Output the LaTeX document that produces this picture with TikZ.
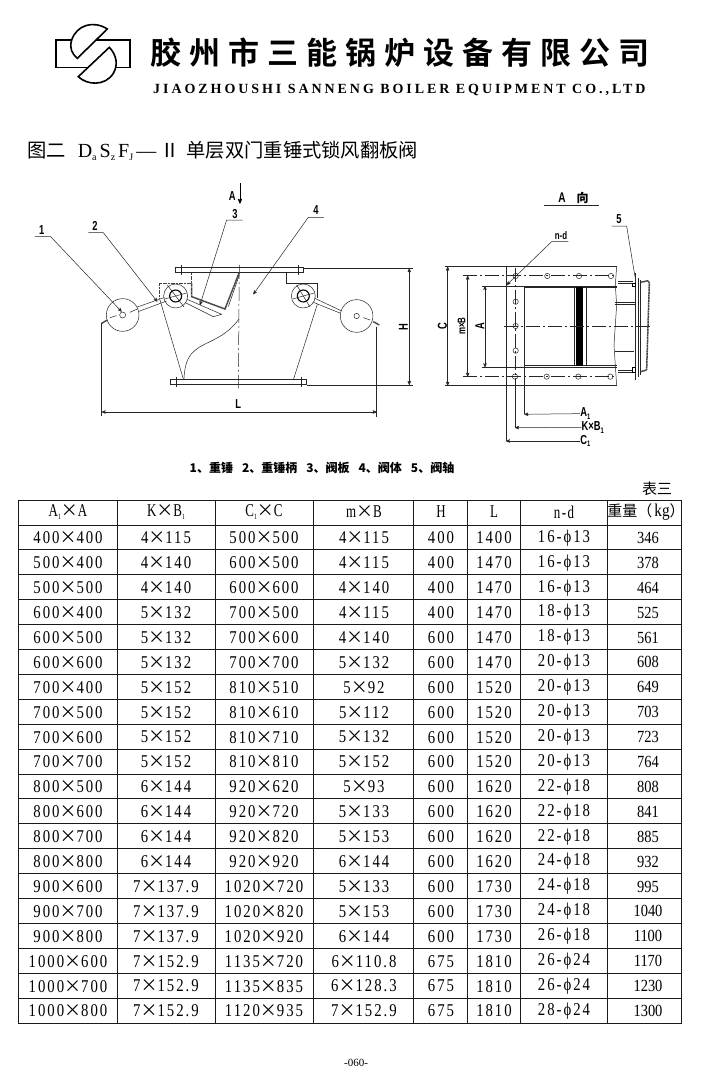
\documentclass[tikz,border=0pt]{standalone}
\usepackage{fontspec}
\usepackage{amsmath}
\usetikzlibrary{calc}
\usetikzlibrary{arrows,shapes}
\setmainfont{Liberation Serif}
\newfontfamily\cjkfont{Noto Sans CJK SC}
\newfontfamily\cjkbold[LetterSpace=26]{Noto Sans CJK SC Bold}
\newfontfamily\engfont[LetterSpace=21]{Liberation Serif Bold}
\newfontfamily\tabfont[FakeStretch=0.82,LetterSpace=11]{Liberation Serif}
\newfontfamily\weightfont[FakeStretch=0.85]{Liberation Serif}
\newfontfamily\headfont[FakeStretch=0.72,LetterSpace=8]{Liberation Serif}
\newfontfamily\dimfont[FakeStretch=0.72]{Liberation Sans Bold}
\newcommand{\tm}{{\fontsize{17}{17}\cjkfont ×}}
\newcommand{\sub}[1]{\raisebox{-2.5pt}{\fontsize{8}{8}\selectfont #1}}
\newcommand{\titlesub}[1]{\raisebox{-2.5pt}{\fontsize{10}{10}\selectfont #1}}
\tikzstyle{thinline} = [solid,black!85,line width=0.5pt,-]
\tikzstyle{heavyline} = [solid,black,line width=1.1pt,-]
\tikzstyle{dotline} = [black!75,line width=1.5pt,dash pattern=on 1.2pt off 0.4pt,-]
\tikzstyle{centerline} = [black!85,line width=0.5pt,dash pattern=on 14pt off 3pt on 2pt off 3pt,-]
\tikzstyle{leader} = [solid,black!85,line width=0.5pt,-stealth']
\tikzstyle{dimline} = [solid,black!85,line width=0.5pt,stealth'-stealth']
\tikzstyle{dimtext} = [inner sep=0pt,font=\dimfont\fontsize{13}{13}\selectfont]
\tikzstyle{tabline} = [solid,black!90,line width=1pt,-]
\tikzstyle{cell} = [inner sep=0pt,font=\tabfont\fontsize{18}{18}\selectfont]
\tikzstyle{weightcell} = [inner sep=0pt,font=\weightfont\fontsize{17}{17}\selectfont]
\tikzstyle{headcell} = [inner sep=0pt,font=\headfont\fontsize{18}{18}\selectfont]
\begin{document}
\begin{tikzpicture}[x=1pt,y=-1pt]
	\useasboundingbox (0,0) rectangle (701,1069);
	\fill[white] (0,0) rectangle (701,1069);

	% logo
	\begin{scope}[shift={(50,15)},scale=0.3333]
		\draw[black,line width=1.3pt] (18,75) rectangle (240,158);
		\draw[black,fill=white,line width=1.6pt] (172,42) .. controls (130,15) and (80,30) .. (65,75) .. controls (58,100) and (65,115) .. (82,130) -- cycle;
		\draw[black,fill=white,line width=1.6pt] (178,97) .. controls (200,120) and (205,150) .. (190,175) .. controls (165,215) and (110,210) .. (85,185) -- cycle;
	\end{scope}
	\node[inner sep=0pt,anchor=west,font=\cjkbold\fontsize{31}{31}\selectfont] (company) at (150,53) {胶州市三能锅炉设备有限公司};
	\node[inner sep=0pt,anchor=west,font=\engfont\fontsize{14}{14}\selectfont] (english) at (153,90) {JIAOZHOUSHI SANNENG BOILER EQUIPMENT CO.,LTD};
	\node[inner sep=0pt,anchor=west,font=\cjkfont\fontsize{19.3}{19.3}\selectfont] (title) at (27,151) {图二\hspace{12pt}{\rmfamily\fontsize{20}{20}\selectfont D\titlesub{a}\hspace{3pt}S\titlesub{z}\hspace{3pt}F\titlesub{J}\hspace{3pt}—}\hspace{4pt}Ⅱ\hspace{7pt}单层双门重锤式锁风翻板阀};

	% side view
	\begin{scope}[shift={(20,185)},scale=0.3333]
		\draw[thinline] (851,250) -- (1180,250);
		\draw[thinline] (860,600) -- (1180,600);
		\draw[thinline] (466,247) -- (851,247) -- (851,263) -- (466,263) -- cycle;
		\draw[thinline] (452,582) -- (860,582) -- (860,598) -- (452,598) -- cycle;
		\draw[thinline] (483,240) -- (483,270);
		\draw[thinline] (835,240) -- (835,270);
		\draw[thinline] (468,575) -- (468,605);
		\draw[thinline] (845,575) -- (845,605);
		\draw[centerline] (658,240) -- (655,610);

		% left hand door
		\draw[dotline] (418,342) -- (418,295) -- (515,295) -- (515,263);
		\draw[dotline] (515,295) -- (515,335) -- (615,372) -- (658,262);
		\draw[thinline] (625,365) -- (658,270);
		\draw[thinline] (490,338) -- (605,388) -- (580,395) -- (490,350);
		\draw[thinline,fill=white] (467,333) circle (36);
		\draw[heavyline] (467,333) circle (18);
		\draw[thinline] (442,300) -- (492,366);
		\draw[thinline] (434,342) -- (500,324);
		\draw[thinline] (308,390) circle (49);
		\draw[thinline] (308,390) circle (9);
		\draw[thinline] (270,398) -- (290,392);
		\draw[thinline] (330,382) -- (352,372);
		\draw[thinline] (352,366) -- (432,338);
		\draw[thinline] (357,379) -- (440,348);
		\draw[dotline] (245,415) -- (262,405);
		\draw[thinline] (420,345) -- (490,582);
		\draw[thinline] (492,582) .. controls (495,500) and (530,490) .. (580,465) .. controls (620,445) and (640,425) .. (657,402);

		% right hand door
		\draw[thinline] (798,263) -- (798,295) -- (892,295) -- (892,340);
		\draw[thinline] (885,340) -- (965,378);
		\draw[thinline] (880,352) -- (962,385);
		\draw[thinline,fill=white] (850,333) circle (36);
		\draw[heavyline] (850,333) circle (18);
		\draw[thinline] (830,300) -- (870,366);
		\draw[thinline] (818,342) -- (882,324);
		\draw[thinline] (1010,393) circle (49);
		\draw[thinline] (1010,393) circle (8);
		\draw[thinline] (1030,398) -- (1050,405);
		\draw[dotline] (1060,410) -- (1078,420);
		\draw[thinline] (892,358) -- (820,585);

		% dimensions
		\draw[thinline] (245,415) -- (245,692);
		\draw[thinline] (1070,425) -- (1070,695);
		\coordinate (lleft) at (245,681);
		\coordinate (lright) at (1070,681);
		\draw[dimline] (lleft) -- (lright);
		\node[dimtext] (lL) at (655,658) {L};
		\coordinate (htop) at (1168,250);
		\coordinate (hbot) at (1168,600);
		\draw[dimline] (htop) -- (hbot);
		\node[dimtext,rotate=90] (lH) at (1150,425) {H};

		% view arrow and leaders
		\node[dimtext] (lA) at (637,33) {A};
		\coordinate (aroot) at (660,-6);
		\coordinate (atip) at (660,56);
		\draw[solid,black,line width=0.8pt,-stealth'] (aroot) -- (atip);
		\node[dimtext] (one) at (65,135) {1};
		\node[dimtext] (two) at (225,122) {2};
		\node[dimtext] (three) at (645,86) {3};
		\node[dimtext] (four) at (888,75) {4};
		\coordinate (onea) at (45,155);
		\coordinate (oneb) at (92,155);
		\coordinate (onec) at (305,380);
		\coordinate (twoa) at (205,143);
		\coordinate (twob) at (250,143);
		\coordinate (twoc) at (412,350);
		\coordinate (threea) at (668,105);
		\coordinate (threeb) at (620,105);
		\coordinate (threec) at (540,360);
		\coordinate (foura) at (912,97);
		\coordinate (fourb) at (865,97);
		\coordinate (fourc) at (700,328);
		\draw[leader] (onea) -- (oneb) -- (onec);
		\draw[leader] (twoa) -- (twob) -- (twoc);
		\draw[leader] (threea) -- (threeb) -- (threec);
		\draw[leader] (foura) -- (fourb) -- (fourc);
	\end{scope}

	% view from A
	\begin{scope}[shift={(430,185)},scale=0.3333]
		\node[inner sep=0pt,font=\dimfont\fontsize{14}{14}\selectfont] (viewA) at (396,38) {A};
		\node[inner sep=0pt,font=\cjkfont\bfseries\fontsize{12}{12}\selectfont] (viewdir) at (458,38) {向};
		\draw[thinline] (343,61) -- (506,61);
		\draw[thinline] (45,245) -- (560,245);
		\draw[thinline] (45,602) -- (560,602);
		\draw[thinline] (228,245) -- (228,602);
		\draw[thinline] (560,245) -- (556,300) -- (560,360) -- (552,480) -- (560,602);
		\draw[thinline] (155,303) -- (560,303);
		\draw[thinline] (283,308) -- (560,308);
		\draw[thinline] (155,547) -- (560,547);
		\draw[thinline] (283,542) -- (560,542);
		\draw[thinline] (283,303) -- (283,547);
		\draw[fill=black] (438,308) rectangle (456,541);
		\draw[thinline] (433,308) -- (433,541);
		\draw[thinline] (468,308) -- (468,541);
		\draw[centerline] (100,272) -- (560,272);
		\draw[centerline] (100,575) -- (560,575);
		\draw[centerline] (222,423) -- (660,423);
		\draw[centerline] (257,250) -- (257,590);
		\foreach \hx/\hy in {257/273,352/273,447/273,543/273,257/350,257/423,257/497,255/575,350/575,445/575,541/575}{
			\draw[thinline] (\hx,\hy) circle (8);
		}

		% shaft end
		\draw[thinline] (565,288) -- (610,288);
		\draw[thinline] (565,295) -- (610,295);
		\draw[thinline] (565,555) -- (610,555);
		\draw[thinline] (565,562) -- (610,562);
		\draw[thinline] (555,352) -- (615,352);
		\draw[thinline] (555,358) -- (615,358);
		\draw[thinline] (555,498) -- (612,498);
		\draw[thinline] (617,265) -- (617,585);
		\draw[thinline] (625,280) -- (625,575);
		\draw[thinline] (632,285) -- (632,570);
		\draw[heavyline] (607,295) rectangle (617,305);
		\draw[heavyline] (607,548) rectangle (617,562);
		\draw[dotline] (632,292) -- (655,287) -- (658,295) -- (650,555) -- (632,560);

		% dimensions
		\coordinate (ctop) at (53,245);
		\coordinate (cbot) at (53,602);
		\draw[dimline] (ctop) -- (cbot);
		\node[dimtext,rotate=90] (lC) at (37,423) {C};
		\coordinate (mtop) at (113,272);
		\coordinate (mbot) at (113,575);
		\draw[dimline] (mtop) -- (mbot);
		\node[inner sep=0pt,rotate=90,font=\dimfont\fontsize{11}{11}\selectfont] (lmB) at (95,423) {m×B};
		\coordinate (atop) at (165,303);
		\coordinate (abot) at (165,547);
		\draw[dimline] (atop) -- (abot);
		\node[dimtext,rotate=90] (lAA) at (150,423) {A};

		\node[dimtext] (lA1) at (466,686) {A\sub{1}};
		\node[dimtext] (lKB) at (488,727) {K×B\sub{1}};
		\node[dimtext] (lC1) at (466,768) {C\sub{1}};
		\coordinate (aone) at (283,547);
		\coordinate (aonec) at (283,688);
		\coordinate (kbone) at (255,585);
		\coordinate (kbonec) at (255,728);
		\coordinate (cone) at (228,602);
		\coordinate (conec) at (228,768);
		\draw[thinline] (aone) -- (aonec);
		\draw[thinline] (kbone) -- (kbonec);
		\draw[thinline] (cone) -- (conec);
		\draw[leader] (lA1.west) -- (aonec);
		\draw[leader] (lKB.west) -- (kbonec);
		\draw[leader] (lC1.west) -- (conec);

		\node[inner sep=0pt,font=\dimfont\fontsize{11}{11}\selectfont] (nd) at (393,152) {n-d};
		\node[dimtext] (five) at (567,103) {5};
		\coordinate (nda) at (415,170);
		\coordinate (ndb) at (365,170);
		\coordinate (ndc) at (230,300);
		\coordinate (fivea) at (545,123);
		\coordinate (fiveb) at (590,123);
		\coordinate (fivec) at (615,275);
		\draw[leader] (nda) -- (ndb) -- (ndc);
		\draw[thinline] (fivea) -- (fiveb) -- (fivec);
	\end{scope}

	\node[inner sep=0pt,font=\cjkfont\bfseries\fontsize{12}{12}\selectfont] (parts) at (322,468) {1、重锤\hspace{9pt}2、重锤柄\hspace{9pt}3、阀板\hspace{9pt}4、阀体\hspace{9pt}5、阀轴};
	\node[inner sep=0pt,font=\cjkfont\fontsize{15}{15}\selectfont] (tabnum) at (657,489) {表三};

	% table
	\foreach \lx in {18.5,117,215,313.5,413.5,467,520.5,607.5,681.5}
		\draw[tabline] (\lx,500) -- (\lx,1023.5);
	\draw[tabline] (18.5,500) -- (681.5,500);
	\foreach \r in {0,...,20}
		\draw[tabline] (18.5,525+24.9*\r) -- (681.5,525+24.9*\r);

	\node[headcell] (hA) at (68,512) {A\sub{1}\tm A};
	\node[headcell] (hK) at (166,512) {K\tm B\sub{1}};
	\node[headcell] (hC) at (264,512) {C\sub{1}\tm C};
	\node[headcell] (hm) at (364,512) {m\tm B};
	\node[headcell] (hH) at (441,512) {H};
	\node[headcell] (hL) at (494,512) {L};
	\node[headcell] (hn) at (564,512) {n-d};
	\node[inner sep=0pt,font=\weightfont\fontsize{18}{18}\selectfont] (hw) at (646,512) {{\cjkfont\fontsize{15}{15}\selectfont 重量（}\hspace{2pt}kg{\cjkfont\fontsize{15}{15}\selectfont ）}};

	\foreach \r/\ca/\cb/\cc/\cd/\ce/\cf/\cg/\ch in {
		1/400\tm400/4\tm115/500\tm500/4\tm115/400/1400/16-ϕ13/346,
		2/500\tm400/4\tm140/600\tm500/4\tm115/400/1470/16-ϕ13/378,
		3/500\tm500/4\tm140/600\tm600/4\tm140/400/1470/16-ϕ13/464,
		4/600\tm400/5\tm132/700\tm500/4\tm115/400/1470/18-ϕ13/525,
		5/600\tm500/5\tm132/700\tm600/4\tm140/600/1470/18-ϕ13/561,
		6/600\tm600/5\tm132/700\tm700/5\tm132/600/1470/20-ϕ13/608,
		7/700\tm400/5\tm152/810\tm510/5\tm92/600/1520/20-ϕ13/649,
		8/700\tm500/5\tm152/810\tm610/5\tm112/600/1520/20-ϕ13/703,
		9/700\tm600/5\tm152/810\tm710/5\tm132/600/1520/20-ϕ13/723,
		10/700\tm700/5\tm152/810\tm810/5\tm152/600/1520/20-ϕ13/764,
		11/800\tm500/6\tm144/920\tm620/5\tm93/600/1620/22-ϕ18/808,
		12/800\tm600/6\tm144/920\tm720/5\tm133/600/1620/22-ϕ18/841,
		13/800\tm700/6\tm144/920\tm820/5\tm153/600/1620/22-ϕ18/885,
		14/800\tm800/6\tm144/920\tm920/6\tm144/600/1620/24-ϕ18/932,
		15/900\tm600/7\tm137.9/1020\tm720/5\tm133/600/1730/24-ϕ18/995,
		16/900\tm700/7\tm137.9/1020\tm820/5\tm153/600/1730/24-ϕ18/1040,
		17/900\tm800/7\tm137.9/1020\tm920/6\tm144/600/1730/26-ϕ18/1100,
		18/1000\tm600/7\tm152.9/1135\tm720/6\tm110.8/675/1810/26-ϕ24/1170,
		19/1000\tm700/7\tm152.9/1135\tm835/6\tm128.3/675/1810/26-ϕ24/1230,
		20/1000\tm800/7\tm152.9/1120\tm935/7\tm152.9/675/1810/28-ϕ24/1300}{
		\node[cell] (ca\r) at (68,513+24.9*\r) {\ca};
		\node[cell] (cb\r) at (166,513+24.9*\r) {\cb};
		\node[cell] (cc\r) at (264,513+24.9*\r) {\cc};
		\node[cell] (cd\r) at (364,513+24.9*\r) {\cd};
		\node[cell] (ce\r) at (441,513+24.9*\r) {\ce};
		\node[cell] (cf\r) at (494,513+24.9*\r) {\cf};
		\node[cell] (cg\r) at (564,513+24.9*\r) {\cg};
		\node[weightcell] (ch\r) at (648,513+24.9*\r) {\ch};
	}

	\node[inner sep=0pt,font=\fontsize{11}{11}\selectfont] (page) at (356,1063) {-060-};
\end{tikzpicture}
\end{document}
